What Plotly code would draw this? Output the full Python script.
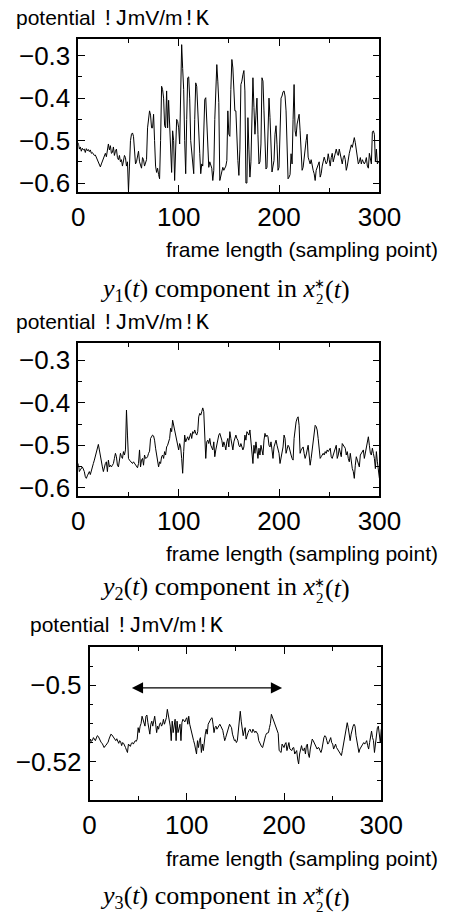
import numpy as np
import plotly.graph_objects as go

t = list(range(0, 301))

y1 = [
    -0.505, -0.52, -0.515, -0.525, -0.518, -0.522, -0.52, -0.528, -0.519, -0.524,
    -0.521, -0.526, -0.522, -0.53, -0.528, -0.532, -0.535, -0.534, -0.54, -0.545,
    -0.553, -0.56, -0.562, -0.555, -0.548, -0.54, -0.536, -0.53, -0.538, -0.525,
    -0.508, -0.522, -0.512, -0.53, -0.528, -0.515, -0.535, -0.525, -0.52, -0.54,
    -0.545, -0.535, -0.55, -0.545, -0.56, -0.548, -0.535, -0.54, -0.56, -0.55,
    -0.62, -0.56, -0.50, -0.485, -0.482, -0.49, -0.53, -0.555, -0.55, -0.54,
    -0.525, -0.55, -0.56, -0.565, -0.54, -0.545, -0.56, -0.55, -0.545, -0.47,
    -0.44, -0.43, -0.44, -0.47, -0.47, -0.438, -0.50, -0.56, -0.575, -0.565,
    -0.58, -0.59, -0.5, -0.372, -0.38, -0.40, -0.465, -0.47, -0.383, -0.47,
    -0.405, -0.48, -0.53, -0.575, -0.477, -0.50, -0.594, -0.52, -0.45, -0.455,
    -0.47, -0.508, -0.35, -0.274, -0.33, -0.38, -0.50, -0.578, -0.45, -0.352,
    -0.35, -0.40, -0.50, -0.53, -0.567, -0.578, -0.45, -0.364, -0.372, -0.415,
    -0.48, -0.53, -0.578, -0.555, -0.56, -0.47, -0.403, -0.399, -0.45, -0.508,
    -0.563, -0.55, -0.56, -0.565, -0.594, -0.57, -0.45, -0.352, -0.321, -0.36,
    -0.41, -0.594, -0.585, -0.575, -0.563, -0.57, -0.565, -0.56, -0.547, -0.43,
    -0.485, -0.49, -0.38, -0.309, -0.329, -0.38, -0.43, -0.43, -0.50, -0.547,
    -0.582, -0.52, -0.368, -0.36, -0.345, -0.335, -0.383, -0.60, -0.60, -0.446,
    -0.52, -0.586, -0.55, -0.40, -0.352, -0.422, -0.485, -0.44, -0.40, -0.485,
    -0.555, -0.55, -0.508, -0.352, -0.36, -0.43, -0.50, -0.567, -0.563, -0.47,
    -0.40, -0.446, -0.52, -0.574, -0.56, -0.547, -0.485, -0.465, -0.51, -0.57,
    -0.563, -0.46, -0.40, -0.395, -0.385, -0.383, -0.395, -0.43, -0.508, -0.59,
    -0.586, -0.58, -0.531, -0.555, -0.45, -0.368, -0.477, -0.49, -0.461, -0.45,
    -0.438, -0.477, -0.55, -0.57, -0.563, -0.539, -0.524, -0.50, -0.485, -0.539,
    -0.547, -0.555, -0.545, -0.56, -0.57, -0.578, -0.594, -0.57, -0.563, -0.56,
    -0.55, -0.586, -0.578, -0.56, -0.55, -0.539, -0.547, -0.555, -0.55, -0.531,
    -0.545, -0.56, -0.54, -0.53, -0.55, -0.54, -0.525, -0.52, -0.53, -0.535,
    -0.52, -0.535, -0.55, -0.555, -0.54, -0.535, -0.545, -0.57, -0.56, -0.54,
    -0.53, -0.52, -0.51, -0.516, -0.50, -0.493, -0.505, -0.52, -0.53, -0.555,
    -0.55, -0.54, -0.555, -0.545, -0.55, -0.555, -0.55, -0.54, -0.56, -0.565,
    -0.53, -0.55, -0.555, -0.48, -0.477, -0.485, -0.55, -0.52, -0.555, -0.55,
    -0.55,
]

y2 = [
    -0.543, -0.562, -0.558, -0.555, -0.551, -0.556, -0.562, -0.574, -0.578, -0.572,
    -0.566, -0.562, -0.569, -0.562, -0.555, -0.543, -0.535, -0.527, -0.519, -0.509,
    -0.498, -0.511, -0.527, -0.539, -0.551, -0.562, -0.551, -0.543, -0.539, -0.562,
    -0.535, -0.551, -0.547, -0.551, -0.547, -0.543, -0.531, -0.519, -0.527, -0.547,
    -0.551, -0.531, -0.519, -0.527, -0.531, -0.515, -0.523, -0.511, -0.417, -0.476,
    -0.531, -0.535, -0.537, -0.540, -0.543, -0.539, -0.543, -0.545, -0.551, -0.553,
    -0.543, -0.511, -0.551, -0.535, -0.531, -0.547, -0.523, -0.531, -0.530, -0.527,
    -0.519, -0.514, -0.484, -0.480, -0.476, -0.478, -0.488, -0.507, -0.523, -0.543,
    -0.551, -0.539, -0.543, -0.527, -0.523, -0.531, -0.515, -0.523, -0.504, -0.500,
    -0.492, -0.484, -0.460, -0.468, -0.441, -0.453, -0.468, -0.476, -0.488, -0.500,
    -0.511, -0.496, -0.504, -0.531, -0.566, -0.515, -0.476, -0.492, -0.484, -0.480,
    -0.488, -0.476, -0.472, -0.484, -0.468, -0.472, -0.464, -0.472, -0.476, -0.468,
    -0.433, -0.425, -0.429, -0.421, -0.412, -0.421, -0.468, -0.531, -0.492, -0.488,
    -0.496, -0.484, -0.500, -0.504, -0.511, -0.492, -0.527, -0.511, -0.500, -0.484,
    -0.476, -0.472, -0.480, -0.488, -0.504, -0.492, -0.500, -0.511, -0.492, -0.484,
    -0.504, -0.468, -0.484, -0.500, -0.511, -0.492, -0.484, -0.476, -0.484, -0.488,
    -0.500, -0.504, -0.496, -0.507, -0.511, -0.504, -0.476, -0.488, -0.468, -0.472,
    -0.476, -0.464, -0.492, -0.515, -0.543, -0.500, -0.519, -0.492, -0.523, -0.531,
    -0.507, -0.523, -0.500, -0.515, -0.523, -0.488, -0.472, -0.480, -0.476, -0.480,
    -0.500, -0.504, -0.492, -0.511, -0.531, -0.504, -0.492, -0.488, -0.500, -0.511,
    -0.519, -0.543, -0.531, -0.519, -0.504, -0.476, -0.484, -0.519, -0.507, -0.500,
    -0.504, -0.511, -0.523, -0.531, -0.535, -0.484, -0.456, -0.445, -0.437, -0.433,
    -0.453, -0.519, -0.511, -0.507, -0.504, -0.519, -0.531, -0.523, -0.511, -0.500,
    -0.523, -0.547, -0.531, -0.511, -0.492, -0.472, -0.453, -0.456, -0.464, -0.484,
    -0.507, -0.531, -0.527, -0.523, -0.519, -0.523, -0.515, -0.519, -0.511, -0.515,
    -0.511, -0.507, -0.527, -0.531, -0.523, -0.515, -0.511, -0.500, -0.531, -0.523,
    -0.507, -0.515, -0.527, -0.496, -0.500, -0.504, -0.507, -0.523, -0.515, -0.531,
    -0.539, -0.519, -0.547, -0.555, -0.562, -0.578, -0.547, -0.527, -0.535, -0.543,
    -0.551, -0.523, -0.519, -0.515, -0.511, -0.531, -0.519, -0.500, -0.492, -0.480,
    -0.500, -0.519, -0.523, -0.507, -0.519, -0.531, -0.555, -0.515, -0.539, -0.562,
    -0.578,
]

y3 = [
    -0.5154, -0.5141, -0.5147, -0.5144, -0.5137, -0.5140, -0.5145, -0.5138, -0.5132, -0.5134,
    -0.5141, -0.5145, -0.5150, -0.5152, -0.5156, -0.5163, -0.5159, -0.5157, -0.5152, -0.5150,
    -0.5141, -0.5135, -0.5128, -0.5130, -0.5134, -0.5137, -0.5144, -0.5145, -0.5140, -0.5147,
    -0.5152, -0.5145, -0.5148, -0.5158, -0.5150, -0.5152, -0.5156, -0.5163, -0.5170, -0.5176,
    -0.5154, -0.5157, -0.5160, -0.5152, -0.5150, -0.5154, -0.5149, -0.5145, -0.5147, -0.5141,
    -0.5111, -0.5124, -0.5107, -0.5100, -0.5081, -0.5089, -0.5098, -0.5107, -0.5081, -0.5078,
    -0.5098, -0.5115, -0.5128, -0.5102, -0.5094, -0.5107, -0.5089, -0.5081, -0.5102, -0.5124,
    -0.5107, -0.5115, -0.5102, -0.5098, -0.5107, -0.5102, -0.5089, -0.5102, -0.5094, -0.5085,
    -0.5063, -0.5076, -0.5094, -0.5107, -0.5145, -0.5094, -0.5124, -0.5111, -0.5089, -0.5145,
    -0.5094, -0.5124, -0.5111, -0.5102, -0.5145, -0.5098, -0.5089, -0.5094, -0.5096, -0.5089,
    -0.5085, -0.5102, -0.5081, -0.5102, -0.5115, -0.5124, -0.5132, -0.5145, -0.5154, -0.5167,
    -0.5180, -0.5145, -0.5163, -0.5145, -0.5137, -0.5176, -0.5154, -0.5171, -0.5137, -0.5128,
    -0.5115, -0.5128, -0.5102, -0.5095, -0.5092, -0.5087, -0.5085, -0.5102, -0.5124, -0.5111,
    -0.5107, -0.5115, -0.5111, -0.5109, -0.5102, -0.5107, -0.5111, -0.5118, -0.5132, -0.5145,
    -0.5137, -0.5128, -0.5121, -0.5107, -0.5102, -0.5107, -0.5111, -0.5128, -0.5141, -0.5145,
    -0.5143, -0.5150, -0.5145, -0.5124, -0.5102, -0.5068, -0.5094, -0.5111, -0.5132, -0.5120,
    -0.5111, -0.5141, -0.5130, -0.5124, -0.5118, -0.5115, -0.5121, -0.5124, -0.5115, -0.5121,
    -0.5124, -0.5120, -0.5124, -0.5128, -0.5145, -0.5152, -0.5158, -0.5161, -0.5163, -0.5150,
    -0.5139, -0.5132, -0.5126, -0.5124, -0.5124, -0.5111, -0.5100, -0.5076, -0.5083, -0.5092,
    -0.5095, -0.5102, -0.5111, -0.5120, -0.5126, -0.5171, -0.5173, -0.5176, -0.5154, -0.5158,
    -0.5163, -0.5154, -0.5150, -0.5171, -0.5158, -0.5150, -0.5167, -0.5169, -0.5171, -0.5164,
    -0.5163, -0.5180, -0.5173, -0.5171, -0.5193, -0.5206, -0.5180, -0.5170, -0.5158, -0.5170,
    -0.5171, -0.5164, -0.5180, -0.5158, -0.5154, -0.5180, -0.5189, -0.5167, -0.5154, -0.5141,
    -0.5145, -0.5150, -0.5154, -0.5161, -0.5167, -0.5163, -0.5164, -0.5171, -0.5176, -0.5167,
    -0.5150, -0.5137, -0.5132, -0.5135, -0.5145, -0.5154, -0.5150, -0.5145, -0.5137, -0.5150,
    -0.5154, -0.5167, -0.5158, -0.5154, -0.5163, -0.5167, -0.5171, -0.5176, -0.5180, -0.5184,
    -0.5171, -0.5154, -0.5137, -0.5120, -0.5102, -0.5098, -0.5111, -0.5132, -0.5145, -0.5128,
    -0.5111, -0.5107, -0.5102, -0.5107, -0.5132, -0.5145, -0.5158, -0.5176, -0.5167, -0.5161,
    -0.5158, -0.5154, -0.5150, -0.5154, -0.5150, -0.5145, -0.5158, -0.5167, -0.5150, -0.5128,
    -0.5120, -0.5137, -0.5145, -0.5176, -0.5154, -0.5137, -0.5111, -0.5107, -0.5128, -0.5150,
    -0.5115,
]

x_ticks = [0, 100, 200, 300]
y_ticks_12 = [-0.6, -0.5, -0.4, -0.3]
y_ticklabels_12 = ["\u22120.6", "\u22120.5", "\u22120.4", "\u22120.3"]
y_ticks_3 = [-0.52, -0.5]
y_ticklabels_3 = ["\u22120.52", "\u22120.5"]
arrow_x = [42, 198]
arrow_y = -0.5007

MONO = '<span style="font-family:Liberation Mono;font-size:22px">'
ylabel = 'potential ' + MONO + '!J</span>mV/m' + MONO + '!K</span>'
xlabel = "frame length (sampling point)"
caption_left = [
    "<i>y</i><sub>1</sub>(<i>t</i>) component in <i>x</i>",
    "<i>y</i><sub>2</sub>(<i>t</i>) component in <i>x</i>",
    "<i>y</i><sub>3</sub>(<i>t</i>) component in <i>x</i>",
]
caption_sub = "2"
caption_star = "\u2217"
caption_right = "(<i>t</i>)"

W, H = 468, 921
SANS = "Liberation Sans, Arial, sans-serif"
SERIF = "Liberation Serif, Times New Roman, serif"

fig = go.Figure()
for i, ys in enumerate([y1, y2, y3]):
    sfx = "" if i == 0 else str(i + 1)
    fig.add_trace(go.Scatter(x=t, y=ys, mode="lines", xaxis="x" + sfx, yaxis="y" + sfx,
                             line=dict(color="black", width=1), showlegend=False,
                             hoverinfo="skip"))

# panel boxes in pixels: (left, right, top, bottom)
boxes = [(76, 397, 39, 193), (76, 397, 346, 500), (88, 399, 652, 806)]


def xa(dom, anchor):
    return dict(domain=dom, anchor=anchor, range=[0, 300], tickmode="array", tickvals=x_ticks,
                ticks="inside", ticklen=7, tickwidth=1.3, tickcolor="black",
                minor=dict(dtick=50, tick0=0, ticks="inside", ticklen=4, tickwidth=1.3, tickcolor="black"),
                showline=True, linecolor="black", linewidth=1.6, mirror="ticks",
                showgrid=False, zeroline=False, tickfont=dict(family=SANS, size=26, color="black"),
                ticklabelstandoff=1)


def ya(dom, anchor, rng, tv, tt, mdt):
    return dict(domain=dom, anchor=anchor, range=rng, tickmode="array", tickvals=tv, ticktext=tt,
                ticks="inside", ticklen=7, tickwidth=1.3, tickcolor="black",
                minor=dict(dtick=mdt, tick0=0, ticks="inside", ticklen=4, tickwidth=1.3, tickcolor="black"),
                showline=True, linecolor="black", linewidth=1.6, mirror="ticks",
                showgrid=False, zeroline=False, tickfont=dict(family=SANS, size=26, color="black"),
                ticklabelstandoff=1)


layout = dict(width=W, height=H, margin=dict(l=0, r=0, t=0, b=0),
              paper_bgcolor="white", plot_bgcolor="white", showlegend=False)
yspecs = [([-0.62, -0.26], y_ticks_12, y_ticklabels_12, 0.05),
          ([-0.62, -0.26], y_ticks_12, y_ticklabels_12, 0.05),
          ([-0.53, -0.49], y_ticks_3, y_ticklabels_3, 0.005)]
for i, (l, r, tp, bt) in enumerate(boxes):
    sfx = "" if i == 0 else str(i + 1)
    xd = [l / W, r / W]
    yd = [1 - bt / H, 1 - tp / H]
    layout["xaxis" + sfx] = xa(xd, "y" + sfx)
    rng, tv, tt, mdt = yspecs[i]
    layout["yaxis" + sfx] = ya(yd, "x" + sfx, rng, tv, tt, mdt)
fig.update_layout(**layout)


def px(xp, yp):
    return xp / W, 1 - yp / H


# text positions in pixels
ylabel_pos = [(9, 19), (9, 325), (23, 631)]
xlabel_pos = [(461, 251), (461, 558), (461, 865)]
caption_y = [292, 593, 904]
for i in range(3):
    lx, ly = px(*ylabel_pos[i])
    fig.add_annotation(x=lx, y=ly, xref="paper", yref="paper", xanchor="left", align="left",
                       yanchor="middle", text=ylabel, showarrow=False, borderpad=0,
                       font=dict(family=SANS, size=21, color="black"))
    rx, ry = px(*xlabel_pos[i])
    fig.add_annotation(x=rx, y=ry, xref="paper", yref="paper", xanchor="right", align="right",
                       yanchor="middle", text=xlabel, showarrow=False, borderpad=0,
                       font=dict(family=SANS, size=21, color="black"))
    cy = caption_y[i]
    cx, cyp = px(329, cy)
    fig.add_annotation(x=cx, y=cyp, xref="paper", yref="paper", xanchor="right", align="right",
                       yanchor="middle", text=caption_left[i], showarrow=False,
                       borderpad=0, font=dict(family=SERIF, size=26, color="black"))
    sx, sy = px(333.5, cy + 9.5)
    fig.add_annotation(x=sx, y=sy, xref="paper", yref="paper", xanchor="center",
                       yanchor="middle", text=caption_sub, showarrow=False,
                       borderpad=0, font=dict(family=SERIF, size=15, color="black"))
    ax_, ay_ = px(333.5, cy - 6.5)
    fig.add_annotation(x=ax_, y=ay_, xref="paper", yref="paper", xanchor="center",
                       yanchor="middle", text=caption_star, showarrow=False,
                       borderpad=0, font=dict(family=SERIF, size=13, color="black"))
    rx2, ry2 = px(338, cy)
    fig.add_annotation(x=rx2, y=ry2, xref="paper", yref="paper", xanchor="left", align="left",
                       yanchor="middle", text=caption_right, showarrow=False,
                       borderpad=0, font=dict(family=SERIF, size=26, color="black"))

# double-headed arrow in panel 3
fig.add_annotation(x=arrow_x[1], y=arrow_y, ax=arrow_x[0], ay=arrow_y, xref="x3", yref="y3",
                   axref="x3", ayref="y3", text="", showarrow=True, arrowhead=2, startarrowhead=2,
                   arrowside="end+start", arrowsize=1.6, startarrowsize=1.6, arrowwidth=1.4,
                   arrowcolor="black")

fig.write_html("out.html")
